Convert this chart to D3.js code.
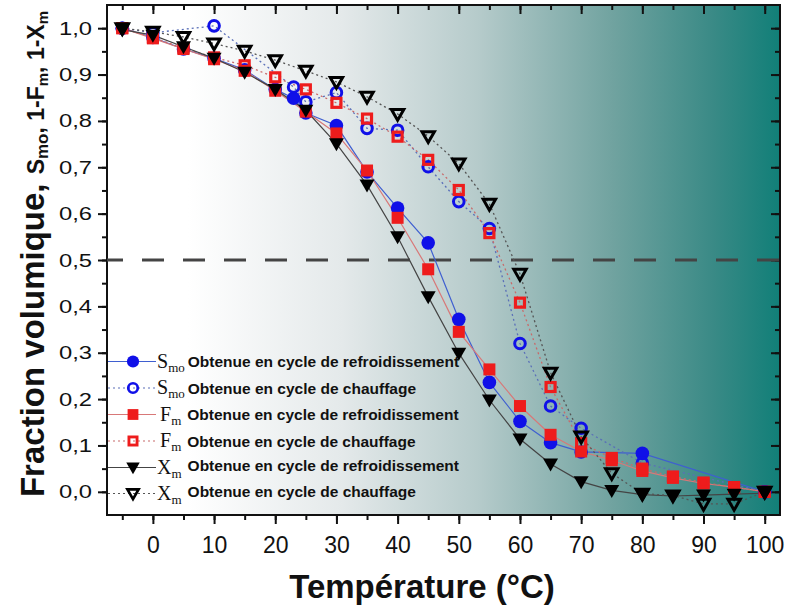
<!DOCTYPE html>
<html>
<head>
<meta charset="utf-8">
<script src="https://cdnjs.cloudflare.com/ajax/libs/d3/7.8.5/d3.min.js"></script>
<style>
  html, body { margin: 0; padding: 0; background: #ffffff; }
  svg { display: block; }
</style>
</head>
<body>
<svg id="chart" width="785" height="608"></svg>
<script>
// Volume fraction vs temperature, cooling (filled) and heating (open) cycles
const xTicks = [0, 10, 20, 30, 40, 50, 60, 70, 80, 90, 100];
const yTicks = [0, 0.1, 0.2, 0.3, 0.4, 0.5, 0.6, 0.7, 0.8, 0.9, 1.0];

const smoCoolT = [-5, 0, 5, 10, 15, 20, 23, 25, 30, 35, 40, 45, 50, 55, 60, 65, 70, 80, 100];
const smoCoolV = [1.0, 0.98, 0.955, 0.935, 0.91, 0.868, 0.849, 0.817, 0.790, 0.690, 0.612, 0.537, 0.372, 0.236, 0.152, 0.106, 0.086, 0.083, 0.0];

const smoHeatT = [-5, 0, 10, 23, 25, 30, 35, 40, 45, 50, 55, 60, 65, 70, 80, 100];
const smoHeatV = [1.0, 0.99, 1.005, 0.873, 0.841, 0.861, 0.784, 0.780, 0.701, 0.626, 0.568, 0.320, 0.185, 0.137, 0.062, 0.0];

const fmCoolT = [-5, 0, 5, 10, 15, 20, 25, 30, 35, 40, 45, 50, 55, 60, 65, 70, 75, 80, 85, 90, 95, 100];
const fmCoolV = [1.0, 0.978, 0.955, 0.933, 0.908, 0.865, 0.82, 0.773, 0.693, 0.591, 0.48, 0.345, 0.264, 0.185, 0.123, 0.087, 0.068, 0.045, 0.03, 0.018, 0.01, 0.0];

const fmHeatT = [-5, 0, 5, 10, 15, 20, 25, 30, 35, 40, 45, 50, 55, 60, 65, 70, 75, 80, 85, 90, 95, 100];
const fmHeatV = [1.0, 0.98, 0.957, 0.937, 0.92, 0.894, 0.868, 0.839, 0.805, 0.766, 0.716, 0.651, 0.558, 0.408, 0.226, 0.105, 0.073, 0.05, 0.033, 0.02, 0.01, 0.0];

const xmCoolT = [-5, 0, 5, 10, 15, 20, 25, 30, 35, 40, 45, 50, 55, 60, 65, 70, 75, 80, 85, 90, 95, 100];
const xmCoolV = [0.997, 0.985, 0.96, 0.935, 0.905, 0.868, 0.823, 0.751, 0.662, 0.55, 0.421, 0.299, 0.198, 0.114, 0.06, 0.022, 0.003, -0.006, -0.009, -0.007, -0.005, -0.003];

const xmHeatT = [-5, 0, 5, 10, 15, 20, 25, 30, 35, 40, 45, 50, 55, 60, 65, 70, 75, 80, 85, 90, 95, 100];
const xmHeatV = [1.0, 0.992, 0.981, 0.967, 0.951, 0.931, 0.908, 0.884, 0.852, 0.815, 0.767, 0.708, 0.621, 0.47, 0.257, 0.119, 0.04, -0.004, -0.008, -0.026, -0.026, 0.0];

const legendSymbols = ["S", "S", "F", "F", "X", "X"];
const legendSubs = ["mo", "mo", "m", "m", "m", "m"];
const legendTexts = [
  "Obtenue en cycle de refroidissement",
  "Obtenue en cycle de chauffage",
  "Obtenue en cycle de refroidissement",
  "Obtenue en cycle de chauffage",
  "Obtenue en cycle de refroidissement",
  "Obtenue en cycle de chauffage"
];

const zip = (t, v) => t.map((d, i) => ({ t: d, v: v[i] }));

const series = [
  { data: zip(smoCoolT, smoCoolV), color: "#1010e8", line: "#3f5fd0", dash: null, shape: "circle", filled: true },
  { data: zip(smoHeatT, smoHeatV), color: "#1010e8", line: "#5a6fb8", dash: "2,3", shape: "circle", filled: false },
  { data: zip(fmCoolT, fmCoolV), color: "#ee1c1c", line: "#d87878", dash: null, shape: "square", filled: true },
  { data: zip(fmHeatT, fmHeatV), color: "#ee1c1c", line: "#c86a6a", dash: "2,3", shape: "square", filled: false },
  { data: zip(xmCoolT, xmCoolV), color: "#000000", line: "#444444", dash: null, shape: "triangle", filled: true },
  { data: zip(xmHeatT, xmHeatV), color: "#000000", line: "#555555", dash: "2,3", shape: "triangle", filled: false }
];

const svg = d3.select("#chart");
const pL = 107, pR = 780, pT = 5, pB = 515;

const x = d3.scaleLinear().domain([-7.5, 102.5]).range([pL, pR]);
const y = d3.scaleLinear().domain([-0.05, 1.05]).range([pB, pT]);

// background gradient across the plot area
const defs = svg.append("defs");
const grad = defs.append("linearGradient").attr("id", "bg")
  .attr("x1", "0%").attr("x2", "100%").attr("y1", "0%").attr("y2", "0%");
[[0, "#ffffff"], [0.12, "#ffffff"], [0.35, "#e4e9ea"], [0.55, "#b6cbcb"], [0.75, "#71a3a0"], [0.9, "#3a8a86"], [1, "#117f78"]]
  .forEach(([o, c]) => grad.append("stop").attr("offset", o).attr("stop-color", c));

defs.append("clipPath").attr("id", "plotclip").append("rect")
  .attr("x", pL).attr("y", pT).attr("width", pR - pL).attr("height", pB - pT);

svg.append("rect").attr("x", pL).attr("y", pT)
  .attr("width", pR - pL).attr("height", pB - pT)
  .attr("fill", "url(#bg)");

// axes
const minorX = d3.range(-5, 101, 5);
const minorY = d3.range(0, 1.001, 0.05);

svg.append("g").attr("transform", `translate(0,${pB})`)
  .call(d3.axisBottom(x).tickValues(minorX).tickSize(5).tickFormat(""));
svg.append("g").attr("transform", `translate(0,${pB})`)
  .call(d3.axisBottom(x).tickValues(xTicks).tickSize(9).tickPadding(13).tickFormat(d3.format("d")))
  .attr("class", "xlab");

svg.append("g").attr("transform", `translate(${pL},0)`)
  .call(d3.axisLeft(y).tickValues(minorY).tickSize(5).tickFormat(""));
svg.append("g").attr("transform", `translate(${pL},0)`)
  .call(d3.axisLeft(y).tickValues(yTicks).tickSize(9).tickPadding(5)
    .tickFormat(d => d3.format(".1f")(d).replace(".", ",")))
  .attr("class", "ylab");

svg.append("g").attr("transform", `translate(0,${pT})`)
  .call(d3.axisTop(x).tickValues(minorX).tickSize(-5).tickFormat(""));
svg.append("g").attr("transform", `translate(0,${pT})`)
  .call(d3.axisTop(x).tickValues(xTicks).tickSize(-9).tickFormat(""));
svg.append("g").attr("transform", `translate(${pR},0)`)
  .call(d3.axisRight(y).tickValues(minorY).tickSize(-5).tickFormat(""));
svg.append("g").attr("transform", `translate(${pR},0)`)
  .call(d3.axisRight(y).tickValues(yTicks).tickSize(-9).tickFormat(""));

svg.selectAll(".domain").remove();
svg.selectAll(".tick line").attr("stroke", "#111").attr("stroke-width", 2);

svg.selectAll(".xlab text").attr("font-family", "'Liberation Sans Narrow', 'Liberation Sans', Arial, sans-serif")
  .attr("font-size", 23).attr("fill", "#111");
// y tick labels are drawn slightly widened
svg.selectAll(".ylab text").attr("font-family", "'Liberation Sans', Arial, sans-serif")
  .attr("font-size", 19).attr("fill", "#111")
  .attr("x", -12).attr("transform", "scale(1.25,1)");

// frame
svg.append("rect").attr("x", pL).attr("y", pT)
  .attr("width", pR - pL).attr("height", pB - pT)
  .attr("fill", "none").attr("stroke", "#111").attr("stroke-width", 2);

// 50 % reference line
svg.append("line")
  .attr("x1", pL).attr("x2", pR).attr("y1", y(0.5)).attr("y2", y(0.5))
  .attr("stroke", "#444").attr("stroke-width", 3.2)
  .attr("stroke-dasharray", "22,19").attr("stroke-dashoffset", 6);

const plot = svg.append("g").attr("clip-path", "url(#plotclip)");

const lineGen = d3.line().x(d => x(d.t)).y(d => y(d.v));

series.forEach(s => {
  plot.append("path").datum(s.data)
    .attr("d", lineGen).attr("fill", "none")
    .attr("stroke", s.line).attr("stroke-width", s.dash ? 1.3 : 1.2)
    .attr("stroke-dasharray", s.dash);
});

function drawMarker(g, shape, filled, color, cx, cy, scale) {
  const k = scale || 1;
  if (shape === "circle") {
    if (filled) {
      g.append("circle").attr("cx", cx).attr("cy", cy).attr("r", 6.8 * k).attr("fill", color);
    } else {
      g.append("circle").attr("cx", cx).attr("cy", cy).attr("r", 5.3 * k)
        .attr("fill", "none").attr("stroke", color).attr("stroke-width", 3 * k);
    }
  } else if (shape === "square") {
    if (filled) {
      const h = 6 * k;
      g.append("rect").attr("x", cx - h).attr("y", cy - h).attr("width", 2 * h).attr("height", 2 * h).attr("fill", color);
    } else {
      const h = 4.5 * k;
      g.append("rect").attr("x", cx - h).attr("y", cy - h).attr("width", 2 * h).attr("height", 2 * h)
        .attr("fill", "none").attr("stroke", color).attr("stroke-width", 3.2 * k);
    }
  } else {
    if (filled) {
      const w = 7.5 * k, h = 13 * k;
      g.append("path").attr("d", `M${cx - w},${cy - h * 0.42}L${cx + w},${cy - h * 0.42}L${cx},${cy + h * 0.58}Z`).attr("fill", color);
    } else {
      const w = 6.2 * k, h = 10.8 * k;
      g.append("path").attr("d", `M${cx - w},${cy - h * 0.42}L${cx + w},${cy - h * 0.42}L${cx},${cy + h * 0.58}Z`)
        .attr("fill", "none").attr("stroke", color).attr("stroke-width", 3 * k).attr("stroke-linejoin", "miter");
    }
  }
}

series.forEach(s => {
  const g = plot.append("g");
  s.data.forEach(d => drawMarker(g, s.shape, s.filled, s.color, x(d.t), y(d.v)));
});

// legend
const legend = svg.append("g");
const rowY = [361.5, 388, 414.5, 441, 467.5, 493.5];
const symX = { S: 157, F: 160, X: 157 };
const textGap = { S: 3, F: 6, X: 6 };
series.forEach((s, i) => {
  const ry = rowY[i];
  const sym = legendSymbols[i];
  legend.append("line").attr("x1", pL + 1).attr("x2", 156).attr("y1", ry).attr("y2", ry)
    .attr("stroke", s.line).attr("stroke-width", 1.2).attr("stroke-dasharray", s.dash);
  drawMarker(legend, s.shape, s.filled, s.color, 133, ry, 0.9);
  const t = legend.append("text").attr("x", symX[sym]).attr("y", ry + 6)
    .attr("fill", "#111");
  t.append("tspan").attr("font-family", "'Liberation Serif', 'Times New Roman', serif")
    .attr("font-size", 20).text(sym);
  t.append("tspan").attr("font-family", "'Liberation Serif', 'Times New Roman', serif")
    .attr("font-size", 13).attr("dy", 4).text(legendSubs[i]);
  t.append("tspan").attr("font-family", "'Liberation Sans', Arial, sans-serif")
    .attr("font-weight", "bold").attr("font-size", 15.5)
    .attr("dy", sym === "X" ? -7 : -4.5)
    .attr("dx", textGap[sym])
    .text(legendTexts[i]);
});

// axis titles
svg.append("text")
  .attr("x", 422).attr("y", 598).attr("text-anchor", "middle")
  .attr("font-family", "'Liberation Sans Narrow', 'Liberation Sans', Arial, sans-serif")
  .attr("font-weight", "bold").attr("font-size", 33).attr("fill", "#111")
  .text("Température (°C)");

const yt = svg.append("text")
  .attr("transform", "translate(44,254) rotate(-90)")
  .attr("text-anchor", "middle")
  .attr("font-family", "'Liberation Sans', Arial, sans-serif")
  .attr("font-weight", "bold").attr("fill", "#111");
yt.append("tspan").attr("font-size", 33).text("Fraction volumique, ");
yt.append("tspan").attr("font-size", 23).text("S");
yt.append("tspan").attr("font-size", 17).attr("dy", 4).text("mo");
yt.append("tspan").attr("font-size", 23).attr("dy", -4).text(", 1-F");
yt.append("tspan").attr("font-size", 15).attr("dy", 4).text("m");
yt.append("tspan").attr("font-size", 23).attr("dy", -4).text(", 1-X");
yt.append("tspan").attr("font-size", 15).attr("dy", 4).text("m");
</script>
</body>
</html>
